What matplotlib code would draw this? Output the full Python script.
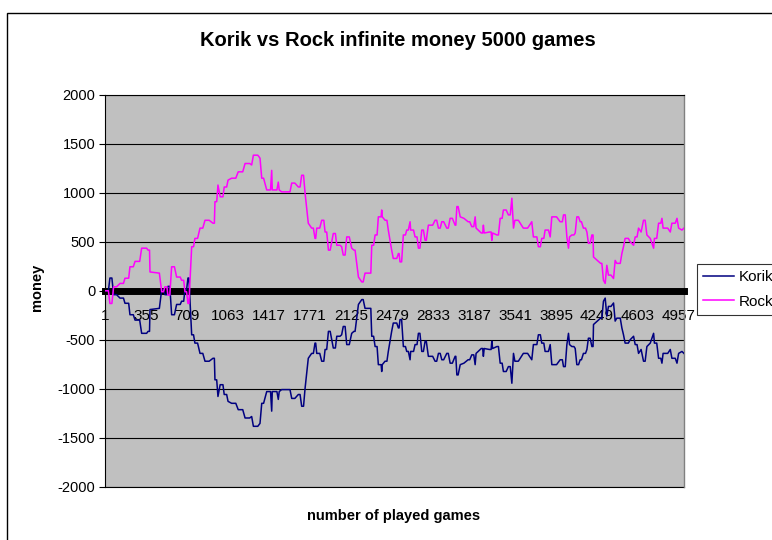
import matplotlib
matplotlib.use("Agg")
import matplotlib.pyplot as plt
from matplotlib.patches import Rectangle

plt.rcParams['font.family'] = ['Liberation Sans', 'DejaVu Sans']
plt.rcParams['axes.unicode_minus'] = False

games = [1, 30, 43, 60, 75, 100, 130, 160, 173, 205,
         216, 245, 260, 300, 317, 360, 372, 385, 389, 470,
         490, 505, 518, 535, 544, 560, 576, 600, 619, 650,
         662, 680, 691, 705, 717, 725, 749, 765, 777, 800,
         821, 845, 864, 900, 933, 945, 950, 965, 976, 995,
         1019, 1030, 1051, 1063, 1094, 1130, 1151, 1190, 1210, 1250,
         1267, 1282, 1320, 1339, 1354, 1370, 1397, 1430, 1440, 1445,
         1485, 1497, 1505, 1526, 1598, 1613, 1640, 1670, 1685, 1699,
         1715, 1728, 1756, 1785, 1800, 1814, 1820, 1829, 1855, 1872,
         1890, 1901, 1915, 1930, 1945, 1972, 1990, 2002, 2030, 2044,
         2058, 2074, 2088, 2110, 2131, 2150, 2160, 2189, 2218, 2230,
         2246, 2296, 2304, 2320, 2333, 2350, 2361, 2385, 2390, 2395,
         2419, 2435, 2447, 2462, 2476, 2490, 2520, 2534, 2540, 2548,
         2562, 2577, 2595, 2606, 2620, 2635, 2640, 2665, 2678, 2695,
         2707, 2720, 2736, 2750, 2765, 2775, 2793, 2830, 2851, 2865,
         2880, 2895, 2909, 2925, 2952, 2965, 2981, 3000, 3024, 3030,
         3039, 3050, 3068, 3100, 3136, 3150, 3168, 3185, 3197, 3205,
         3250, 3262, 3268, 3275, 3320, 3335, 3341, 3348, 3385, 3398,
         3413, 3430, 3441, 3465, 3484, 3500, 3514, 3528, 3540, 3570,
         3613, 3650, 3686, 3700, 3730, 3743, 3760, 3772, 3790, 3801,
         3830, 3845, 3859, 3900, 3931, 3950, 3960, 3975, 3989, 4003,
         4012, 4032, 4050, 4061, 4075, 4090, 4104, 4115, 4132, 4150,
         4162, 4175, 4190, 4205, 4215, 4219, 4280, 4291, 4305, 4320,
         4334, 4348, 4370, 4392, 4406, 4420, 4450, 4464, 4478, 4492,
         4520, 4536, 4565, 4579, 4595, 4608, 4630, 4651, 4665, 4680,
         4709, 4738, 4745, 4765, 4781, 4800, 4810, 4820, 4860, 4882,
         4896, 4925, 4940, 4954, 4983, 5000]

rock = [0, 0, -130, -130, 40, 40, 75, 75, 128, 128,
        245, 245, 300, 300, 435, 435, 415, 415, 192, 180,
        -10, -10, 40, 40, -45, -45, 245, 245, 140, 140,
        107, 107, -10, -10, -130, -130, 450, 450, 535, 535,
        640, 640, 720, 720, 690, 690, 910, 910, 1080, 960,
        960, 1060, 1060, 1130, 1150, 1150, 1215, 1215, 1300, 1300,
        1285, 1385, 1385, 1355, 1150, 1150, 1030, 1030, 1230, 1030,
        1030, 1110, 1030, 1010, 1010, 1100, 1100, 1060, 1060, 1180,
        1180, 1000, 690, 640, 640, 535, 535, 640, 640, 720,
        720, 600, 600, 415, 415, 585, 585, 465, 465, 450,
        365, 365, 550, 550, 435, 415, 415, 140, 90, 90,
        180, 180, 465, 465, 570, 570, 755, 755, 825, 755,
        720, 720, 620, 515, 415, 330, 330, 380, 380, 295,
        295, 570, 570, 620, 620, 705, 620, 620, 550, 550,
        435, 435, 620, 620, 515, 515, 670, 670, 720, 720,
        640, 640, 705, 705, 640, 640, 740, 740, 670, 670,
        860, 860, 755, 740, 705, 705, 655, 655, 755, 640,
        590, 590, 670, 590, 600, 600, 515, 590, 570, 570,
        740, 740, 825, 825, 775, 775, 945, 640, 720, 720,
        640, 640, 705, 550, 550, 450, 450, 535, 535, 620,
        620, 550, 755, 755, 705, 705, 775, 775, 550, 435,
        550, 570, 570, 590, 755, 755, 705, 705, 640, 640,
        600, 485, 485, 570, 570, 345, 280, 280, 107, 75,
        260, 160, 160, 125, 310, 280, 280, 380, 450, 535,
        535, 500, 465, 550, 550, 640, 600, 720, 720, 570,
        535, 435, 535, 535, 690, 690, 740, 640, 640, 600,
        690, 690, 740, 640, 620, 640]

korik = [0, 0, 130, 130, -40, -40, -75, -75, -128, -128,
         -245, -245, -300, -300, -435, -435, -415, -415, -192, -180,
         10, 10, -40, -40, 45, 45, -245, -245, -140, -140,
         -107, -107, 10, 10, 130, 130, -450, -450, -535, -535,
         -640, -640, -720, -720, -690, -690, -910, -910, -1080, -960,
         -960, -1060, -1060, -1130, -1150, -1150, -1215, -1215, -1300, -1300,
         -1285, -1385, -1385, -1355, -1150, -1150, -1030, -1030, -1230, -1030,
         -1030, -1110, -1030, -1010, -1010, -1100, -1100, -1060, -1060, -1180,
         -1180, -1000, -690, -640, -640, -535, -535, -640, -640, -720,
         -720, -600, -600, -415, -415, -585, -585, -465, -465, -450,
         -365, -365, -550, -550, -435, -415, -415, -140, -90, -90,
         -180, -180, -465, -465, -570, -570, -755, -755, -825, -755,
         -720, -720, -620, -515, -415, -330, -330, -380, -380, -295,
         -295, -570, -570, -620, -620, -705, -620, -620, -550, -550,
         -435, -435, -620, -620, -515, -515, -670, -670, -720, -720,
         -640, -640, -705, -705, -640, -640, -740, -740, -670, -670,
         -860, -860, -755, -740, -705, -705, -655, -655, -755, -640,
         -590, -590, -670, -590, -600, -600, -515, -590, -570, -570,
         -740, -740, -825, -825, -775, -775, -945, -640, -720, -720,
         -640, -640, -705, -550, -550, -450, -450, -535, -535, -620,
         -620, -550, -755, -755, -705, -705, -775, -775, -550, -435,
         -550, -570, -570, -590, -755, -755, -705, -705, -640, -640,
         -600, -485, -485, -570, -570, -345, -280, -280, -107, -75,
         -260, -160, -160, -125, -310, -280, -280, -380, -450, -535,
         -535, -500, -465, -550, -550, -640, -600, -720, -720, -570,
         -535, -435, -535, -535, -690, -690, -740, -640, -640, -600,
         -690, -690, -740, -640, -620, -640]

assert len(games) == len(rock) == len(korik)

xtick_vals = list(range(1, 5000, 354))
ytick_vals = list(range(-2000, 2001, 500))

fig = plt.figure(figsize=(7.72, 5.40), dpi=100)
fig.patches.append(Rectangle((7 / 772, -0.1), 2, 1.1 - 13 / 540, transform=fig.transFigure,
                             fill=False, edgecolor='black', linewidth=1.0))

ax = fig.add_axes([105 / 772, 1 - 486.5 / 540, 579 / 772, 391.5 / 540])
ax.set_facecolor('#C0C0C0')

ax.plot(games, korik, color='#000080', lw=1.1, label='Korik', zorder=3)
ax.plot(games, rock, color='#FF00FF', lw=1.1, label='Rock', zorder=3)

ax.set_xlim(0.5, 5000.5)
ax.set_ylim(-2000, 2000)
ax.set_yticks(ytick_vals)
ax.set_xticks(xtick_vals)
ax.set_xticklabels([str(v) for v in xtick_vals])
ax.grid(axis='y', color='black', lw=0.8)
ax.set_axisbelow(True)
ax.axhline(-2000, color='black', lw=0.8, clip_on=False)

ax.spines['bottom'].set_position(('data', 0))
ax.spines['bottom'].set_linewidth(5)
ax.spines['left'].set_linewidth(0.8)
ax.spines['top'].set_linewidth(0.8)
ax.spines['right'].set_color('#808080')
ax.spines['right'].set_linewidth(1.0)

ax.tick_params(axis='x', length=0, pad=13, labelsize=11)
ax.tick_params(axis='y', length=4, width=0.8, pad=3, labelsize=10.5, direction='out')

fig.text(398 / 772, 1 - 40 / 540, 'Korik vs Rock infinite money 5000 games',
         ha='center', va='center', fontsize=14.5, fontweight='bold')
fig.text(37 / 772, 1 - 287 / 540, 'money', rotation=90,
         ha='center', va='center', fontsize=10.5, fontweight='bold')
fig.text(394 / 772, 1 - 516 / 540, 'number of played games',
         ha='center', va='center', fontsize=10.5, fontweight='bold')

# legend sits partly outside the chart, as in the original screenshot
leg = ax.legend(loc='upper left', bbox_to_anchor=(697 / 772, 1 - 264 / 540),
                bbox_transform=fig.transFigure, fontsize=11, frameon=True,
                fancybox=False, borderaxespad=0, handlelength=2.0,
                handletextpad=0.3, labelspacing=0.7, borderpad=0.4)
leg.get_frame().set_edgecolor('black')
leg.get_frame().set_linewidth(0.8)

fig.savefig('out.png', dpi=100)
